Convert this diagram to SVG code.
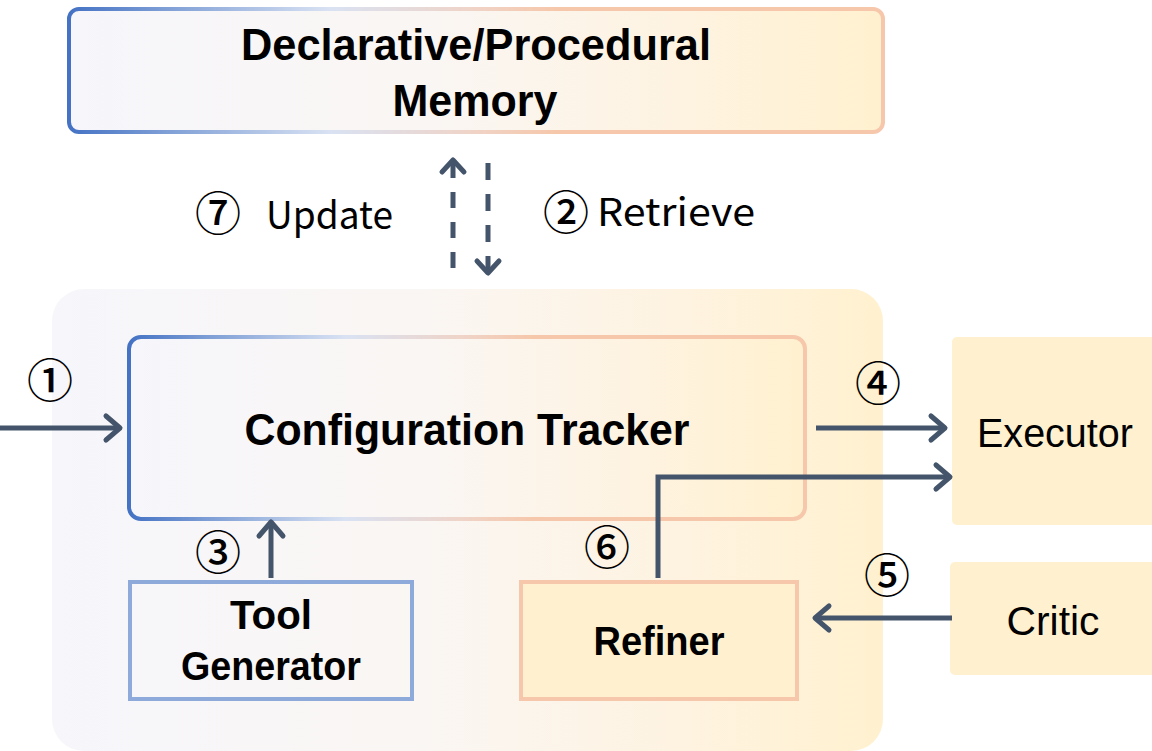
<svg xmlns="http://www.w3.org/2000/svg" width="1152" height="751" viewBox="0 0 1152 751">
<defs>
<linearGradient id="gStroke" x1="0" y1="0" x2="1" y2="0">
<stop offset="0" stop-color="#4472c4"/>
<stop offset="0.12" stop-color="#7f9fd6"/>
<stop offset="0.32" stop-color="#d9e2f3"/>
<stop offset="0.5" stop-color="#f0d3c6"/>
<stop offset="0.6" stop-color="#f6c7aa"/>
<stop offset="1" stop-color="#f6c7aa"/>
</linearGradient>
<linearGradient id="gFill" x1="0" y1="0" x2="1" y2="0">
<stop offset="0" stop-color="#f6f6fb"/>
<stop offset="0.45" stop-color="#faf6f3"/>
<stop offset="0.75" stop-color="#fef3e1"/>
<stop offset="1" stop-color="#fff1cf"/>
</linearGradient>
<marker id="ah" markerUnits="userSpaceOnUse" markerWidth="40" markerHeight="40" viewBox="0 0 40 40" refX="26" refY="20" orient="auto" overflow="visible">
<path d="M12,8 L26,20 L12,32" fill="none" stroke="#44546a" stroke-width="5" stroke-linecap="round" stroke-linejoin="round"/>
</marker>
<marker id="ahs" markerUnits="userSpaceOnUse" markerWidth="40" markerHeight="40" viewBox="0 0 40 40" refX="26" refY="20" orient="auto" overflow="visible">
<path d="M14,9 L26,20 L14,31" fill="none" stroke="#44546a" stroke-width="5" stroke-linecap="round" stroke-linejoin="round"/>
</marker>
</defs>
<style>
.lbl{font-family:"Liberation Sans",Arial,sans-serif;font-weight:bold;fill:#000;text-anchor:middle}
.plain{font-family:"Liberation Sans",Arial,sans-serif;fill:#000;text-anchor:middle}
.num{font-family:"Noto Sans CJK SC","DejaVu Sans",sans-serif;font-weight:500;fill:#000;text-anchor:middle;font-size:46px}
.cap{font-family:"Noto Sans CJK SC","Noto Sans",sans-serif;fill:#000;font-size:38px}
.conn{fill:none;stroke:#44546a;stroke-width:5}
</style>

<g id="container">
<rect x="52" y="289" width="831" height="462" rx="32" fill="url(#gFill)"/>
</g>

<g id="memory">
<rect x="69" y="9" width="814" height="123" rx="10" fill="url(#gFill)" stroke="url(#gStroke)" stroke-width="4"/>
<text class="lbl" x="476" y="60" font-size="44" textLength="470" lengthAdjust="spacingAndGlyphs">Declarative/Procedural</text>
<text class="lbl" x="475" y="116" font-size="44" textLength="165" lengthAdjust="spacingAndGlyphs">Memory</text>
</g>

<g id="tracker">
<rect x="129" y="337" width="676" height="182" rx="12" fill="url(#gFill)" stroke="url(#gStroke)" stroke-width="4"/>
<text class="lbl" x="467" y="445" font-size="44" textLength="445" lengthAdjust="spacingAndGlyphs">Configuration Tracker</text>
</g>

<g id="toolgen">
<rect x="130" y="582" width="282" height="117" fill="none" stroke="#8eaadb" stroke-width="4"/>
<text class="lbl" x="271" y="629" font-size="40" textLength="82" lengthAdjust="spacingAndGlyphs">Tool</text>
<text class="lbl" x="271" y="680" font-size="40" textLength="180" lengthAdjust="spacingAndGlyphs">Generator</text>
</g>

<g id="refiner">
<rect x="521" y="582" width="276" height="117" fill="#fff1cf" stroke="#f6c7aa" stroke-width="4"/>
<text class="lbl" x="659" y="655" font-size="40" textLength="131" lengthAdjust="spacingAndGlyphs">Refiner</text>
</g>

<g id="executor">
<rect x="952" y="337" width="210" height="188" rx="5" fill="#fff1cf"/>
<text class="plain" x="1055" y="447" font-size="41" textLength="156" lengthAdjust="spacingAndGlyphs">Executor</text>
</g>

<g id="critic">
<rect x="950" y="562" width="212" height="113" rx="5" fill="#fff1cf"/>
<text class="plain" x="1053" y="635" font-size="41" textLength="93" lengthAdjust="spacingAndGlyphs">Critic</text>
</g>

<g id="connectors">
<line class="conn" x1="0" y1="428" x2="120" y2="428" marker-end="url(#ah)"/>
<line class="conn" x1="816" y1="428" x2="945" y2="428" marker-end="url(#ah)"/>
<path class="conn" d="M658,578 V477 H950" marker-end="url(#ah)"/>
<line class="conn" x1="952" y1="618" x2="815" y2="618" marker-end="url(#ah)"/>
<line class="conn" x1="271" y1="578" x2="271" y2="522" marker-end="url(#ah)"/>
<line class="conn" x1="453" y1="268" x2="453" y2="160" stroke-dasharray="16,14" marker-end="url(#ahs)"/>
<line class="conn" x1="488" y1="163" x2="488" y2="273" stroke-dasharray="17,14" marker-end="url(#ahs)"/>
</g>

<g id="labels">
<text class="num" x="50" y="397">①</text>
<text class="num" x="878" y="400">④</text>
<text class="num" x="887" y="592">⑤</text>
<text class="num" x="218" y="569">③</text>
<text class="num" x="607" y="564">⑥</text>
<text class="num" x="218" y="230">⑦</text>
<text class="cap" x="266" y="229" textLength="127" lengthAdjust="spacingAndGlyphs">Update</text>
<text class="num" x="566" y="229">②</text>
<text class="cap" x="597" y="226" textLength="158" lengthAdjust="spacingAndGlyphs">Retrieve</text>
</g>
</svg>
